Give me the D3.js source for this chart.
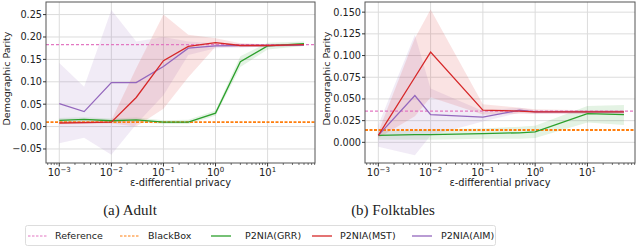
<!DOCTYPE html>
<html><head><meta charset="utf-8">
<script src="https://cdn.jsdelivr.net/npm/d3@7"></script>
<style>body{margin:0;background:#fff}svg{display:block}</style>
</head><body>
<svg id="c" width="640" height="247"></svg>
<script>
// ---------- data ----------
const adultEps = [0.001,0.003,0.01,0.03,0.1,0.3,1,3,10,50];
const adultRef = 0.183, adultBB = 0.010;
const adultGRR = [0.014,0.016,0.013,0.015,0.010,0.010,0.030,0.145,0.180,0.185];
const adultGRRlo = [0.009,0.011,0.009,0.010,0.006,0.006,0.024,0.133,0.172,0.180];
const adultGRRhi = [0.019,0.021,0.018,0.020,0.014,0.015,0.036,0.157,0.187,0.190];
const adultMST = [0.008,0.009,0.010,0.065,0.147,0.179,0.1875,0.181,0.181,0.183];
const adultMSTlo = [0.005,0.006,0.007,0.000,0.040,0.110,0.178,0.177,0.178,0.180];
const adultMSThi = [0.012,0.013,0.014,0.130,0.250,0.205,0.197,0.186,0.184,0.186];
const adultAIM = [0.051,0.0335,0.098,0.098,0.134,0.175,0.180,0.181,0.181,0.182];
const adultAIMlo = [-0.037,-0.025,-0.063,0.005,0.070,0.160,0.175,0.177,0.178,0.180];
const adultAIMhi = [0.142,0.089,0.260,0.190,0.200,0.190,0.186,0.185,0.184,0.184];

const folkEps = [0.001,0.005,0.01,0.1,0.5,1,10,50];
const folkRef = 0.036, folkBB = 0.0142;
const folkGRR = [0.008,0.0088,0.009,0.010,0.011,0.012,0.033,0.032];
const folkGRRlo = [0.003,0.003,0.003,0.004,0.004,0.005,0.023,0.020];
const folkGRRhi = [0.013,0.014,0.015,0.016,0.018,0.019,0.042,0.043];
const folkMST = [0.008,0.075,0.104,0.037,0.036,0.035,0.035,0.035];
const folkMSTlo = [0.005,0.030,0.052,0.032,0.033,0.033,0.033,0.033];
const folkMSThi = [0.012,0.120,0.153,0.044,0.040,0.038,0.037,0.037];
const folkAIM = [0.008,0.054,0.032,0.029,0.037,0.035,0.035,0.035];
const folkAIMlo = [-0.005,-0.015,0.008,0.024,0.034,0.033,0.033,0.033];
const folkAIMhi = [0.020,0.124,0.062,0.036,0.040,0.037,0.037,0.037];

const adultYTicks = [-0.05,0,0.05,0.10,0.15,0.20,0.25];
const folkYTicks = [0,0.025,0.05,0.075,0.10,0.125,0.15];
const xTickExps = [-3,-2,-1,0,1];
const captions = ["(a) Adult","(b) Folktables"];
const legendLabels = ["Reference","BlackBox","P2NIA(GRR)","P2NIA(MST)","P2NIA(AIM)"];

const C = {ref:"#e377c2", bb:"#ff7f0e", grr:"#2ca02c", mst:"#d62728", aim:"#9467bd"};
const svg = d3.select("#c");
const FONT = "DejaVu Sans, sans-serif";

function panel(cfg){
  const {x0,x1,y0,y1,yDom,yTicks,yFmt,eps,ref,bb,series,caption,cx,ylx} = cfg;
  const x = d3.scaleLog().domain([10**-3.255, 10**1.91]).range([x0,x1]);
  const y = d3.scaleLinear().domain(yDom).range([y1,y0]);
  const g = svg.append("g");
  // grid
  g.selectAll(".gy").data(yTicks).join("line")
    .attr("x1",x0).attr("x2",x1).attr("y1",d=>y(d)).attr("y2",d=>y(d))
    .attr("stroke","#dcdcdc").attr("stroke-width",1);
  g.selectAll(".gx").data(xTickExps).join("line")
    .attr("x1",d=>x(10**d)).attr("x2",d=>x(10**d)).attr("y1",y0).attr("y2",y1)
    .attr("stroke","#dcdcdc").attr("stroke-width",1);
  // bands
  const clip = "clip"+x0;
  svg.append("clipPath").attr("id",clip).append("rect").attr("x",x0).attr("y",y0).attr("width",x1-x0).attr("height",y1-y0);
  const gp = g.append("g").attr("clip-path",`url(#${clip})`);
  series.forEach(s=>{
    const area = d3.area().x((d,i)=>x(eps[i])).y0((d,i)=>y(s.lo[i])).y1((d,i)=>y(s.hi[i]));
    gp.append("path").attr("d",area(s.v)).attr("fill",s.c).attr("fill-opacity",0.13);
  });
  // reference lines
  gp.append("line").attr("x1",x0).attr("x2",x1).attr("y1",y(ref)).attr("y2",y(ref))
    .attr("stroke",C.ref).attr("stroke-width",1.3).attr("stroke-dasharray","3,2");
  gp.append("line").attr("x1",x0).attr("x2",x1).attr("y1",y(bb)).attr("y2",y(bb))
    .attr("stroke",C.bb).attr("stroke-width",1.8).attr("stroke-dasharray","3,1.5");
  series.forEach(s=>{
    const line = d3.line().x((d,i)=>x(eps[i])).y(d=>y(d));
    gp.append("path").attr("d",line(s.v)).attr("fill","none").attr("stroke",s.c).attr("stroke-width",1.3);
  });
  // frame
  g.append("rect").attr("x",x0).attr("y",y0).attr("width",x1-x0).attr("height",y1-y0)
    .attr("fill","none").attr("stroke","#555").attr("stroke-width",1);
  // y ticks
  yTicks.forEach(t=>{
    g.append("line").attr("x1",x0-3).attr("x2",x0).attr("y1",y(t)).attr("y2",y(t)).attr("stroke","#333");
    g.append("text").attr("x",x0-4).attr("y",y(t)).attr("dy","0.35em").attr("text-anchor","end")
      .attr("font-family",FONT).attr("font-size",9.7).attr("fill","#222").text(yFmt(t));
  });
  // x ticks major
  xTickExps.forEach(e=>{
    const px = x(10**e);
    g.append("line").attr("x1",px).attr("x2",px).attr("y1",y1).attr("y2",y1+3.5).attr("stroke","#333");
    const t = g.append("text").attr("x",px).attr("y",y1+13).attr("text-anchor","middle")
      .attr("font-family",FONT).attr("font-size",10).attr("fill","#222");
    t.append("tspan").text("10");
    t.append("tspan").attr("dy",-4.5).attr("font-size",7).text(String(e).replace("-","−"));
  });
  // minor ticks
  const minors=[];
  for(let e=-4;e<=1;e++) for(let m=2;m<=9;m++){const v=m*10**e; if(x(v)>=x0&&x(v)<=x1) minors.push(v);}
  g.selectAll(".mn").data(minors).join("line").attr("x1",d=>x(d)).attr("x2",d=>x(d))
    .attr("y1",y1).attr("y2",y1+2).attr("stroke","#333").attr("stroke-width",0.7);
  // labels
  g.append("text").attr("x",(x0+x1)/2).attr("y",y1+23).attr("text-anchor","middle")
    .attr("font-family",FONT).attr("font-size",9.8).attr("fill","#222").text("ε-differential privacy");
  g.append("text").attr("transform",`translate(${ylx},${(y0+y1)/2 - 4}) rotate(-90)`).attr("text-anchor","middle")
    .attr("font-family",FONT).attr("font-size",9.5).attr("fill","#222").text("Demographic Parity");
  svg.append("text").attr("x",cx).attr("y",215).attr("text-anchor","middle")
    .attr("font-family","Liberation Serif, serif").attr("font-size",15).attr("fill","#222").text(caption);
}

const fmtMinus = f => t => f(t).replace("-","−");
panel({x0:46,x1:315,y0:2,y1:163,yDom:[-0.0813,0.2781],yTicks:adultYTicks,yFmt:fmtMinus(d3.format(".2f")),
  eps:adultEps,ref:adultRef,bb:adultBB,caption:captions[0],cx:130,ylx:10,
  series:[{v:adultGRR,lo:adultGRRlo,hi:adultGRRhi,c:C.grr},{v:adultAIM,lo:adultAIMlo,hi:adultAIMhi,c:C.aim},{v:adultMST,lo:adultMSTlo,hi:adultMSThi,c:C.mst}]});
panel({x0:365,x1:635,y0:2,y1:163,yDom:[-0.0238,0.1617],yTicks:folkYTicks,yFmt:d3.format(".3f"),
  eps:folkEps,ref:folkRef,bb:folkBB,caption:captions[1],cx:393,ylx:330,
  series:[{v:folkGRR,lo:folkGRRlo,hi:folkGRRhi,c:C.grr},{v:folkAIM,lo:folkAIMlo,hi:folkAIMhi,c:C.aim},{v:folkMST,lo:folkMSTlo,hi:folkMSThi,c:C.mst}]});

// legend
const lg = svg.append("g");
lg.append("rect").attr("x",25.5).attr("y",225.5).attr("width",470).attr("height",20).attr("rx",2)
  .attr("fill","#fff").attr("stroke","#ddd");
const lgItems = [
  {c:C.ref,dash:"2.5,1.5",w:1,lx:28,tx:55},
  {c:C.bb,dash:"2.5,1.5",w:1,lx:120,tx:148},
  {c:C.grr,dash:null,w:1.3,lx:211,tx:245},
  {c:C.mst,dash:null,w:1.3,lx:312,tx:340},
  {c:C.aim,dash:null,w:1.3,lx:412,tx:441}];
lgItems.forEach((it,i)=>{
  lg.append("line").attr("x1",it.lx).attr("x2",it.lx+20).attr("y1",236).attr("y2",236)
    .attr("stroke",it.c).attr("stroke-width",it.w).attr("stroke-dasharray",it.dash);
  lg.append("text").attr("x",it.tx).attr("y",236).attr("dy","0.35em").attr("font-family",FONT)
    .attr("font-size",9.5).attr("fill","#222").text(legendLabels[i]);
});
</script>
</body></html>
